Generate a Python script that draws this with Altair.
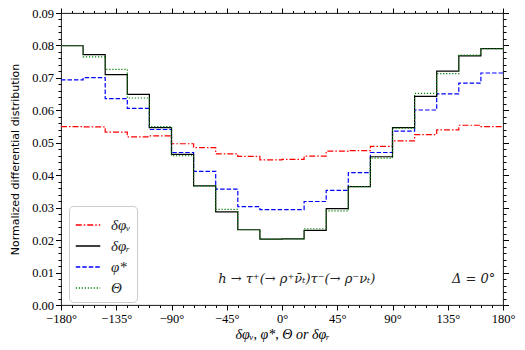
import altair as alt
import pandas as pd

# bin left edges plus the final right edge (degrees)
edges = [-180, -162, -144, -126, -108, -90, -72, -54, -36, -18,
         0, 18, 36, 54, 72, 90, 108, 126, 144, 162, 180]

legend_order = ["δφᵥ", "δφᵣ", "φ*", "Θ"]

dphi_nu = [0.0550, 0.0549, 0.0533, 0.0518, 0.0521, 0.0497, 0.0485, 0.0466, 0.0458, 0.0447,
           0.0449, 0.0459, 0.0474, 0.0476, 0.0489, 0.0506, 0.0525, 0.0540, 0.0554, 0.0550]
dphi_r = [0.0799, 0.0772, 0.0710, 0.0649, 0.0547, 0.0464, 0.0367, 0.0287, 0.0232, 0.0203,
          0.0204, 0.0230, 0.0297, 0.0365, 0.0457, 0.0547, 0.0643, 0.0721, 0.0768, 0.0790]
phi_star = [0.0694, 0.0701, 0.0636, 0.0606, 0.0541, 0.0470, 0.0412, 0.0357, 0.0303, 0.0294,
            0.0294, 0.0319, 0.0353, 0.0408, 0.0470, 0.0536, 0.0601, 0.0651, 0.0684, 0.0715]
theta = [0.0799, 0.0765, 0.0726, 0.0638, 0.0550, 0.0460, 0.0367, 0.0295, 0.0232, 0.0203,
         0.0204, 0.0235, 0.0290, 0.0365, 0.0453, 0.0545, 0.0652, 0.0713, 0.0770, 0.0790]

colors = ["#ff0000", "#000000", "#0000ff", "#008000"]
dashes = [[6, 2, 1.5, 2], [1, 0], [4.5, 2], [1.2, 1.8]]

# annotation texts
ann_text = ["h → τ⁺(→ ρ⁺ν̄ₜ)τ⁻(→ ρ⁻νₜ)", "Δ = 0°"]
ann_x = [12.0, 156.0]
ann_y = [0.0080, 0.0080]

x_major = [-180, -135, -90, -45, 0, 45, 90, 135, 180]
x_minor = [v for v in range(-180, 181, 9) if v % 45 != 0]
y_major = [round(i * 0.01, 2) for i in range(10)]
y_minor = [round(i * 0.002, 3) for i in range(46) if i % 5 != 0]

rows = []
for name, vals in [("δφᵥ", dphi_nu), ("φ*", phi_star), ("δφᵣ", dphi_r), ("Θ", theta)]:
    ys = vals + [vals[-1]]
    for i, (xv, yv) in enumerate(zip(edges, ys)):
        rows.append({"x": xv, "y": yv, "series": name, "idx": i})
df = pd.DataFrame(rows)
ann = pd.DataFrame({"x": ann_x, "y": ann_y, "t": ann_text})

xscale = alt.Scale(domain=[-180, 180], nice=False, zero=False)
yscale = alt.Scale(domain=[0, 0.09], nice=False, zero=False)

SERIF = "Liberation Serif"
LAB = 12.5

legend = alt.Legend(
    orient="none", legendX=8, legendY=193, title=None,
    symbolType="stroke", symbolSize=600, symbolStrokeWidth=1.3,
    labelFont=SERIF, labelFontSize=15, labelFontStyle="italic", labelColor="#222",
    fillColor="white", strokeColor="#cccccc", cornerRadius=4,
    padding=6, rowPadding=0, labelOffset=10,
)

lines = alt.Chart(df).mark_line(interpolate="step-after", strokeWidth=1.2).encode(
    x=alt.X("x:Q", scale=xscale, axis=alt.Axis(
        orient="bottom", values=x_major, format="d", labelExpr="datum.label + '°'",
        labelOverlap=False, labelFlush=False,
        tickSize=5, tickColor="black", labelPadding=2, labelFont=SERIF, labelFontSize=LAB,
        labelColor="black", domain=False, grid=False,
        title="δφᵥ, φ*, Θ or δφᵣ", titleFont=SERIF, titleFontSize=14,
        titleFontStyle="italic", titleFontWeight="normal", titlePadding=3, titleColor="black")),
    y=alt.Y("y:Q", scale=yscale, axis=alt.Axis(
        orient="left", values=y_major, format=".2f", tickSize=5.5, tickColor="black",
        labelOverlap=False, labelFlush=False,
        labelPadding=2, labelFont=SERIF, labelFontSize=LAB, labelColor="black",
        domain=False, grid=False,
        title="Normalized differential distribution", titleFont="DejaVu Sans",
        titleFontSize=11, titleFontWeight="normal", titlePadding=11, titleColor="black")),
    color=alt.Color("series:N", scale=alt.Scale(domain=legend_order, range=colors), legend=legend),
    strokeDash=alt.StrokeDash("series:N", scale=alt.Scale(domain=legend_order, range=dashes), legend=legend),
    order=alt.Order("idx:Q"),
)

def ax_layer(xorient, xvals, xsize, yorient, yvals, ysize):
    return alt.Chart(df).mark_point(opacity=0, size=1).encode(
        x=alt.X("x:Q", scale=xscale, axis=alt.Axis(
            orient=xorient, values=xvals, tickSize=xsize, tickColor="black",
            labels=False, domain=False, grid=False, title=None)),
        y=alt.Y("y:Q", scale=yscale, axis=alt.Axis(
            orient=yorient, values=yvals, tickSize=ysize, tickColor="black",
            labels=False, domain=False, grid=False, title=None)),
    )

minor_bl = ax_layer("bottom", x_minor, 2.5, "left", y_minor, 3)
major_tr = ax_layer("top", x_major, 5, "right", y_major, 5.5)
minor_tr = ax_layer("top", x_minor, 2.5, "right", y_minor, 3)

texts = alt.Chart(ann).mark_text(font="DejaVu Serif", fontSize=13, fontStyle="italic", color="#222",
                                 baseline="middle", align="center").encode(
    x=alt.X("x:Q", scale=xscale, axis=None),
    y=alt.Y("y:Q", scale=yscale, axis=None),
    text="t:N",
)

chart = alt.layer(lines, minor_bl, major_tr, minor_tr, texts).resolve_axis(
    x="independent", y="independent"
).properties(
    width=442, height=292,
    autosize=alt.AutoSizeParams(type="none"),
    padding={"left": 53, "top": 5, "right": 13, "bottom": 37},
).configure_view(stroke="black", strokeWidth=0.9)

chart.save("out.html", embed_options={"renderer": "svg", "actions": False})
